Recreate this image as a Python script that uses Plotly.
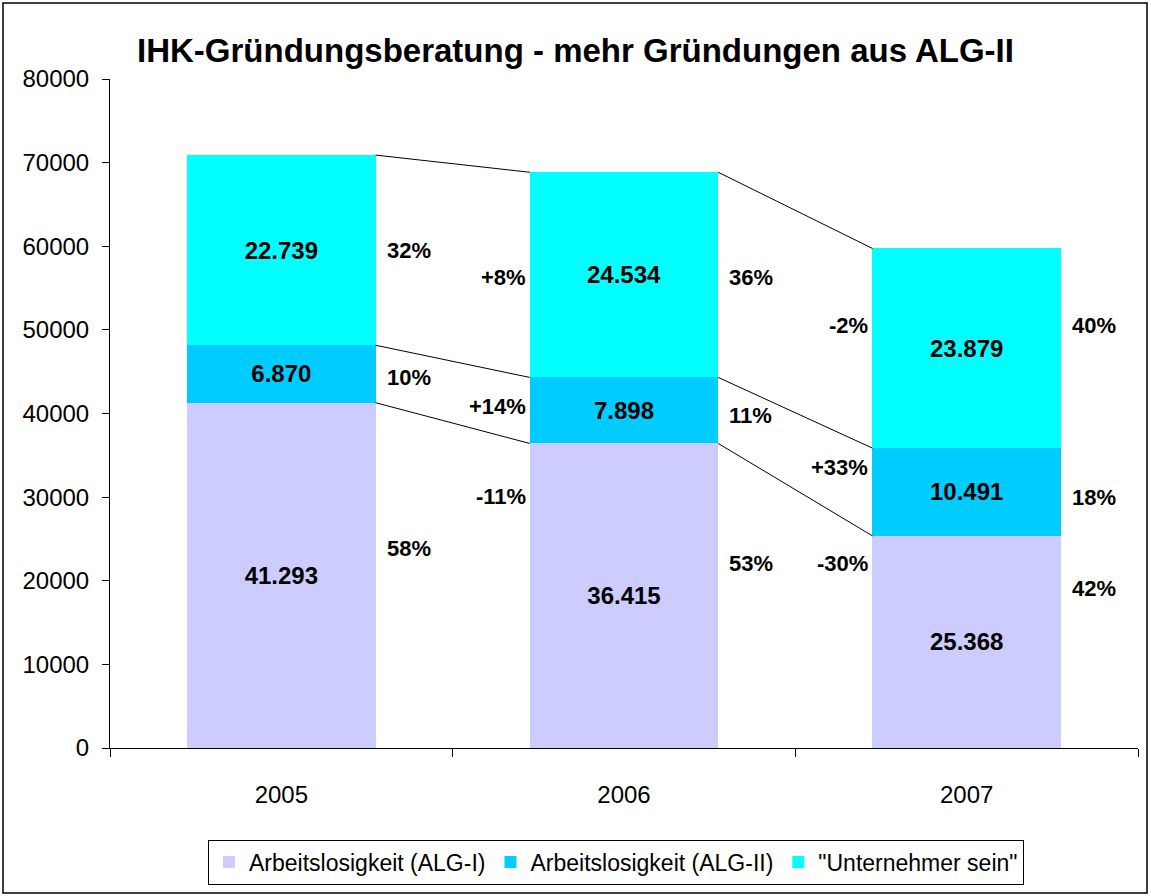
import plotly.graph_objects as go

# ── Data ──────────────────────────────────────────────────────────────────────
years = ["2005", "2006", "2007"]
alg1 = [41293, 36415, 25368]
alg2 = [6870, 7898, 10491]
unternehmer = [22739, 24534, 23879]

series_names = ["Arbeitslosigkeit (ALG-I)", "Arbeitslosigkeit (ALG-II)", '"Unternehmer sein"']
series_colors = ["#CCCCFF", "#00CCFF", "#00FFFF"]

# share of each year (bottom → top), as printed
share_alg1 = ["58%", "53%", "42%"]
share_alg2 = ["10%", "11%", "18%"]
share_unt = ["32%", "36%", "40%"]
# change vs. previous year (for 2006, 2007), as printed
chg_alg1 = ["-11%", "-30%"]
chg_alg2 = ["+14%", "+33%"]
chg_unt = ["+8%", "-2%"]

# label heights (data units) for the percentage texts
share_y_alg1 = [23900, 22100, 19100]
share_y_alg2 = [44300, 39800, 30000]
share_y_unt = [59500, 56300, 50500]
chg_y_alg1 = [30100, 22100]
chg_y_alg2 = [40800, 33600]
chg_y_unt = [56300, 50500]

BAR_W = 0.55
FONT = "Liberation Sans, Arial, sans-serif"


def de(v):
    return f"{v:,}".replace(",", ".")


fig = go.Figure()
for name, vals, color in zip(series_names, [alg1, alg2, unternehmer], series_colors):
    fig.add_trace(go.Bar(
        x=years, y=vals, name=name,
        marker=dict(color=color, line=dict(width=0)),
        width=BAR_W,
        text=[de(v) for v in vals],
        textposition="inside",
        insidetextanchor="middle",
        textangle=0,
        textfont=dict(family=FONT, size=24, color="black", weight="bold"),
        hoverinfo="skip",
    ))

# series lines between bars
levels = [
    [a for a in alg1],
    [a + b for a, b in zip(alg1, alg2)],
    [a + b + c for a, b, c in zip(alg1, alg2, unternehmer)],
]
for lvl in levels:
    for i in range(len(years) - 1):
        fig.add_trace(go.Scatter(
            x=[i + BAR_W / 2, i + 1 - BAR_W / 2], y=[lvl[i], lvl[i + 1]],
            xaxis="x2", mode="lines", line=dict(color="black", width=1),
            showlegend=False, hoverinfo="skip",
        ))

ann_font = dict(family=FONT, size=22, color="black", weight="bold")
annotations = []
for texts, ys in [(share_alg1, share_y_alg1), (share_alg2, share_y_alg2), (share_unt, share_y_unt)]:
    for i, (t, y) in enumerate(zip(texts, ys)):
        annotations.append(dict(
            x=i + BAR_W / 2, y=y, xref="x2", yref="y", text=t, showarrow=False,
            xanchor="left", yanchor="middle", xshift=9, font=ann_font,
        ))
for texts, ys in [(chg_alg1, chg_y_alg1), (chg_alg2, chg_y_alg2), (chg_unt, chg_y_unt)]:
    for i, (t, y) in enumerate(zip(texts, ys)):
        annotations.append(dict(
            x=i + 1 - BAR_W / 2, y=y, xref="x2", yref="y", text=t, showarrow=False,
            xanchor="right", yanchor="middle", xshift=-2, font=ann_font,
        ))

fig.update_layout(
    width=1151, height=896,
    margin=dict(l=110, r=13, t=79, b=148),
    paper_bgcolor="white", plot_bgcolor="white",
    barmode="stack",
    font=dict(family=FONT, size=24, color="black"),
    title=dict(
        text="<b>IHK-Gründungsberatung - mehr Gründungen aus ALG-II</b>",
        x=0.5, xref="container", xanchor="center",
        y=1 - 50 / 896, yref="container", yanchor="middle",
        font=dict(family=FONT, size=33, color="black"),
    ),
    xaxis=dict(
        type="category", showgrid=False, zeroline=False,
        showline=True, linecolor="black", linewidth=1,
        ticks="outside", tickson="boundaries", ticklen=8, tickcolor="black",
        ticklabelstandoff=25,
        tickfont=dict(family=FONT, size=24),
    ),
    xaxis2=dict(
        overlaying="x", range=[-0.5, 2.5], visible=False,
    ),
    yaxis=dict(
        range=[0, 80000], dtick=10000, tickformat="d",
        showgrid=False, zeroline=False,
        showline=True, linecolor="black", linewidth=1,
        ticks="outside", ticklen=7, tickcolor="black",
        ticklabelstandoff=8,
        tickfont=dict(family=FONT, size=24),
    ),
    legend=dict(
        orientation="h", x=(616 - 110) / 1028, xanchor="center",
        y=(896 - 862) / 896, yref="container", yanchor="middle",
        bordercolor="black", borderwidth=1,
        font=dict(family=FONT, size=23),
        traceorder="normal",
    ),
    annotations=annotations,
    shapes=[dict(
        type="rect", xref="paper", yref="paper",
        x0=(3 - 110) / 1028, x1=(1147 - 110) / 1028,
        y0=(748 - 893) / 669, y1=(748 - 3) / 669,
        line=dict(color="black", width=1.5), layer="above",
    )],
)

fig.write_html(
    "out.html",
    config={"displayModeBar": False},
    post_script="document.body.style.margin='0';",
)
